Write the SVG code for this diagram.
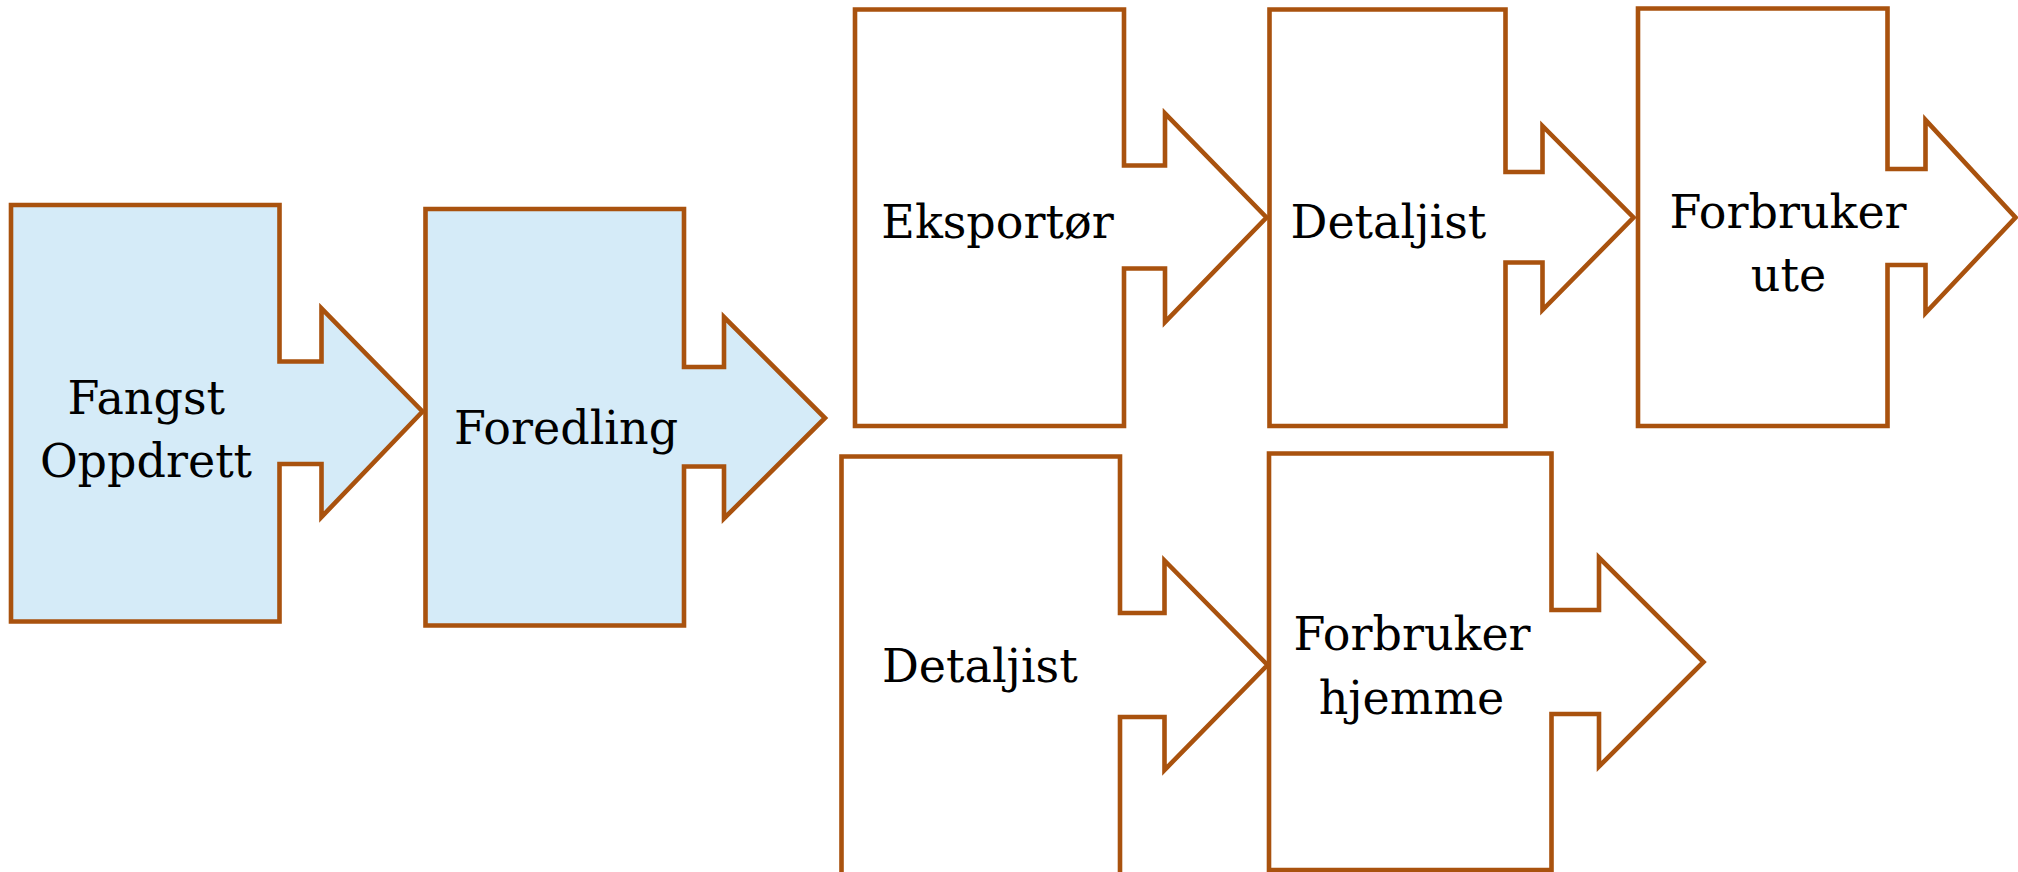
<svg xmlns="http://www.w3.org/2000/svg" width="2018" height="872" viewBox="0 0 2018 872">
<style>
.box{stroke:#A9520E;stroke-width:4.6;stroke-linejoin:miter}
.blue{fill:#D5EBF8}
.white{fill:#FFFFFF}
text{font-family:"DejaVu Serif","Liberation Serif",serif;font-size:46px;fill:#000;text-anchor:middle}
</style>
<rect width="2018" height="872" fill="#FFFFFF"/>
<g id="connectors"></g>
<g id="fangst">
<path class="box blue" d="M11,205 H279.5 V361.5 H321.5 V308.5 L422.5,411.5 L321.5,517 V464 H279.5 V621.5 H11 Z"/>
<text x="146.3" y="414">Fangst</text>
<text x="146" y="477">Oppdrett</text>
</g>
<g id="foredling">
<path class="box blue" d="M425.5,209 H684 V367 H724 V317 L825,418 L724,518.5 V466.5 H684 V625.5 H425.5 Z"/>
<text x="566" y="444">Foredling</text>
</g>
<g id="eksportor">
<path class="box white" d="M855,9.5 H1124 V165.5 H1165 V113.5 L1266.5,217.5 L1165,322 V268.5 H1124 V426 H855 Z"/>
<text x="997.5" y="238">Eksportør</text>
</g>
<g id="detaljist1">
<path class="box white" d="M1269.5,9.5 H1505.5 V172 H1542.5 V126 L1633.5,217.5 L1542.5,310 V262.5 H1505.5 V426 H1269.5 Z"/>
<text x="1388.4" y="238">Detaljist</text>
</g>
<g id="forbruker-ute">
<path class="box white" d="M1638,8.5 H1887.5 V169 H1925.5 V120 L2015.5,217.5 L1925.5,313 V265 H1887.5 V426 H1638 Z"/>
<text x="1788" y="227.5">Forbruker</text>
<text x="1788.5" y="291">ute</text>
</g>
<g id="detaljist2">
<path class="box white" d="M841.5,456.5 H1120 V613 H1164.5 V560.5 L1267.5,665 L1164.5,770 V717 H1120 V880 H841.5 Z"/>
<text x="979.8" y="682">Detaljist</text>
</g>
<g id="forbruker-hjemme">
<path class="box white" d="M1269,453.5 H1551.5 V610 H1599 V557.5 L1703.5,662 L1599,766.5 V714 H1551.5 V870 H1269 Z"/>
<text x="1412" y="650">Forbruker</text>
<text x="1411.5" y="714">hjemme</text>
</g>
</svg>
